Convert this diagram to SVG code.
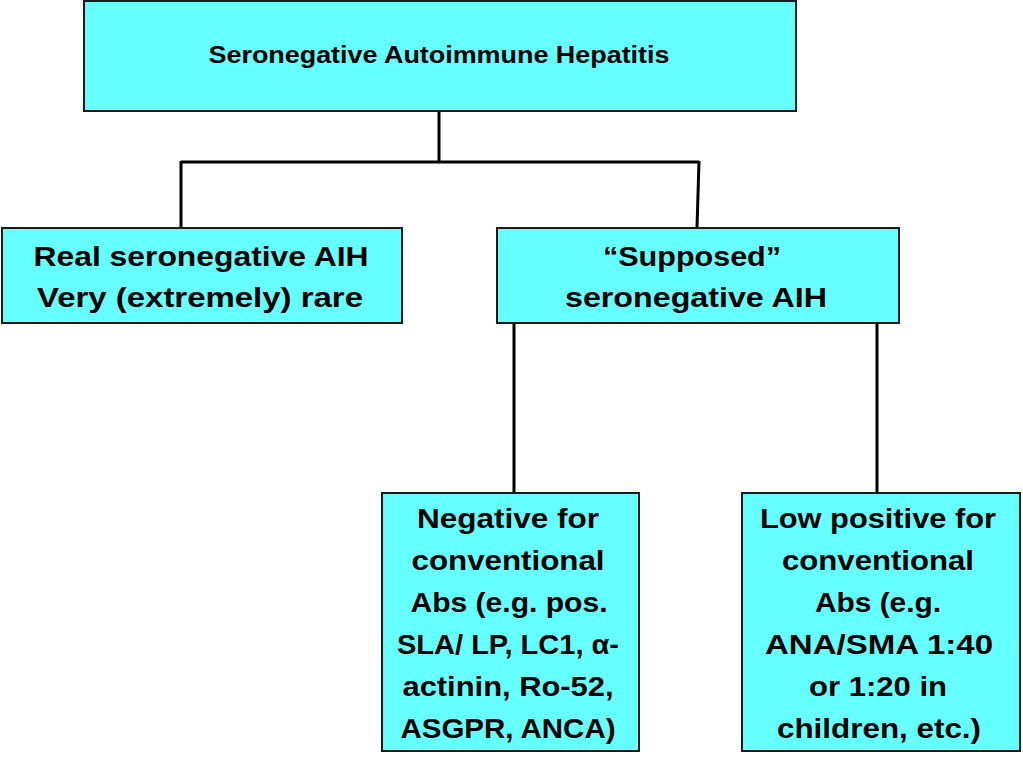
<svg xmlns="http://www.w3.org/2000/svg" width="1023" height="771" viewBox="0 0 1023 771">
<style>
.box{fill:#66FFFF;stroke:#1a1a1a;stroke-width:2}
.t{font-family:"Liberation Sans",Arial,sans-serif;font-weight:bold;fill:#000;text-anchor:middle}
.s{font-size:23px}
.l{font-size:28px}
.c{fill:none;stroke:#000;stroke-width:3}
</style>
<rect width="1023" height="771" fill="#fff"/>
<g id="connectors">
<path class="c" d="M439 111 V162"/>
<path class="c" d="M181 162 H699"/>
<path class="c" d="M181 161 V228"/>
<path class="c" d="M699 161 L697 228"/>
<path class="c" d="M514 323 V493"/>
<path class="c" d="M877 323 V493"/>
</g>
<g id="root">
<rect class="box" x="84" y="1" width="712" height="110"/>
<text class="t s" x="439" y="63" textLength="461" lengthAdjust="spacingAndGlyphs">Seronegative Autoimmune Hepatitis</text>
</g>
<g id="real">
<rect class="box" x="2" y="228" width="400" height="95"/>
<text class="t l" x="201" y="266" textLength="335" lengthAdjust="spacingAndGlyphs">Real seronegative AIH</text>
<text class="t l" x="200" y="307" textLength="326" lengthAdjust="spacingAndGlyphs">Very (extremely) rare</text>
</g>
<g id="supposed">
<rect class="box" x="497" y="228" width="402" height="95"/>
<text class="t l" x="692" y="266" textLength="178" lengthAdjust="spacingAndGlyphs">“Supposed”</text>
<text class="t l" x="696" y="307" textLength="262" lengthAdjust="spacingAndGlyphs">seronegative AIH</text>
</g>
<g id="negative">
<rect class="box" x="382" y="493" width="257" height="258"/>
<text class="t l" x="508" y="528" textLength="182" lengthAdjust="spacingAndGlyphs">Negative for</text>
<text class="t l" x="508" y="570" textLength="193" lengthAdjust="spacingAndGlyphs">conventional</text>
<text class="t l" x="509" y="612" textLength="197" lengthAdjust="spacingAndGlyphs">Abs (e.g. pos.</text>
<text class="t l" x="508" y="654" textLength="222" lengthAdjust="spacingAndGlyphs">SLA/ LP, LC1, α-</text>
<text class="t l" x="508" y="696" textLength="211" lengthAdjust="spacingAndGlyphs">actinin, Ro-52,</text>
<text class="t l" x="508" y="738" textLength="215" lengthAdjust="spacingAndGlyphs">ASGPR, ANCA)</text>
</g>
<g id="lowpositive">
<rect class="box" x="742" y="493" width="278" height="258"/>
<text class="t l" x="878" y="528" textLength="236" lengthAdjust="spacingAndGlyphs">Low positive for</text>
<text class="t l" x="878" y="570" textLength="192" lengthAdjust="spacingAndGlyphs">conventional</text>
<text class="t l" x="878" y="612" textLength="126" lengthAdjust="spacingAndGlyphs">Abs (e.g.</text>
<text class="t l" x="879" y="654" textLength="228" lengthAdjust="spacingAndGlyphs">ANA/SMA 1:40</text>
<text class="t l" x="878" y="696" textLength="138" lengthAdjust="spacingAndGlyphs">or 1:20 in</text>
<text class="t l" x="879" y="738" textLength="204" lengthAdjust="spacingAndGlyphs">children, etc.)</text>
</g>
</svg>
